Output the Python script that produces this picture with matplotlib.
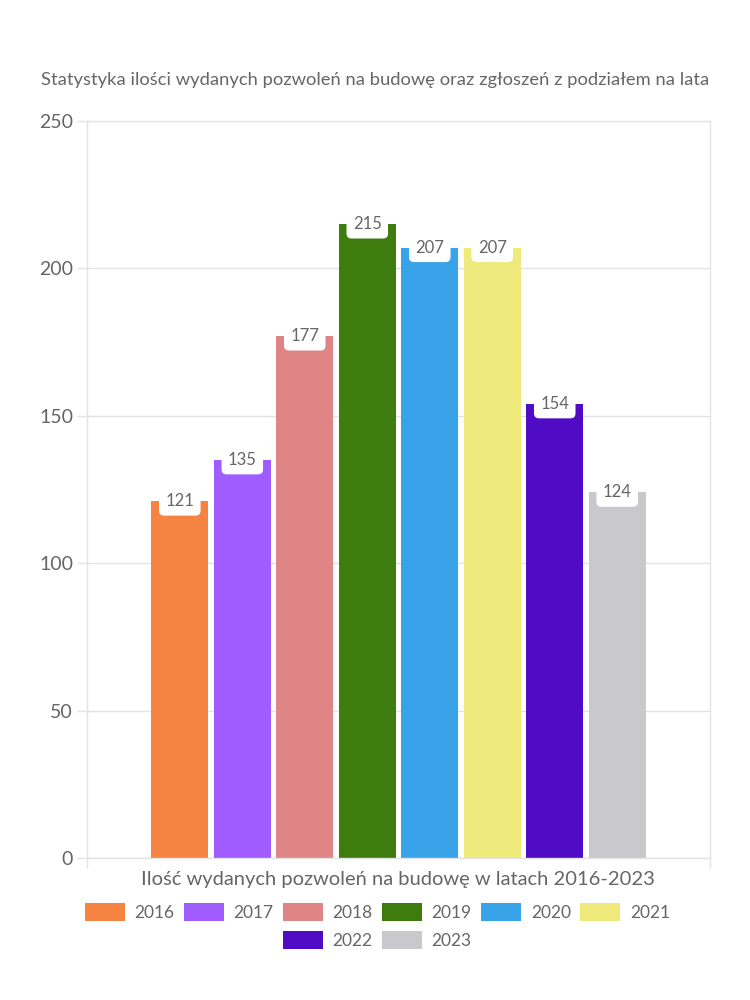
import matplotlib.pyplot as plt
from matplotlib.patches import Patch

years = ['2016', '2017', '2018', '2019', '2020', '2021', '2022', '2023']
values = [121, 135, 177, 215, 207, 207, 154, 124]
colors = ['#F58442', '#A05CFF', '#E08585', '#3E7C0E', '#38A3E8', '#F0EA7C', '#500BC4', '#C9C9CD']

title = 'Statystyka ilości wydanych pozwoleń na budowę oraz zgłoszeń z podziałem na lata'
xlabel = 'Ilość wydanych pozwoleń na budowę w latach 2016-2023'

plt.rcParams['font.family'] = ['Lato', 'DejaVu Sans']
txt = '#666666'
grid = '#E3E3E3'

fig = plt.figure(figsize=(7.5, 10), dpi=100)
ax = fig.add_axes([0.116, 0.142, 0.8307, 0.737])

x = list(range(len(years)))
ax.bar(x, values, width=0.91, color=colors, zorder=2)

for xi, v in zip(x, values):
    ax.text(xi, v, str(v), ha='center', va='center', fontsize=12, color=txt, zorder=4,
            bbox=dict(boxstyle='round,pad=0.38,rounding_size=0.3', fc='white', ec='none'))

ax.set_xlim(3.5 - 4.985, 3.5 + 4.985)
ax.set_ylim(0, 250)
ax.set_yticks([0, 50, 100, 150, 200, 250])
ax.tick_params(axis='y', colors=grid, labelcolor=txt, labelsize=14, length=7, width=1, pad=3)
ax.set_xticks([3.5 - 4.985, 3.5 + 4.985])
ax.set_xticklabels(['', ''])
ax.tick_params(axis='x', colors=grid, length=7, width=1)
ax.grid(axis='y', color=grid, linewidth=1, zorder=0)
for s in ax.spines.values():
    s.set_color(grid)
    s.set_linewidth(1)

fig.text(0.5, 0.92, title, ha='center', va='center', fontsize=13.2, color=txt)
fig.text(0.531, 0.12, xlabel, ha='center', va='center', fontsize=14.5, color=txt)

handles = [Patch(facecolor=c) for c in colors]
kw = dict(frameon=False, fontsize=12.5, labelcolor=txt, handlelength=2.3, handleheight=1.3,
          handletextpad=0.55, columnspacing=0.55, borderaxespad=0, borderpad=0)
leg1 = fig.legend(handles[:6], years[:6], ncol=6, loc='center', bbox_to_anchor=(0.503, 0.088), **kw)
leg2 = fig.legend(handles[6:], years[6:], ncol=2, loc='center', bbox_to_anchor=(0.503, 0.06), **kw)

fig.savefig('out.png', dpi=100)
